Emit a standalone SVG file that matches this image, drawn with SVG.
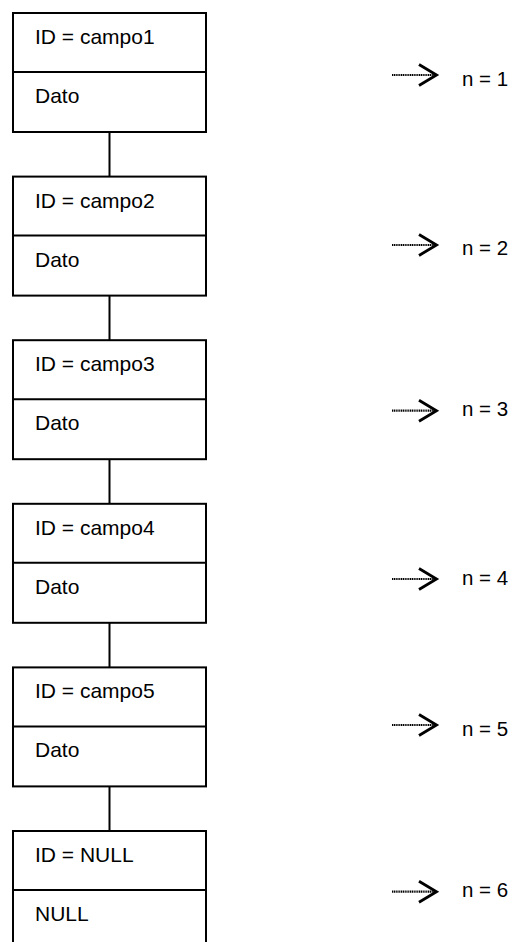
<svg xmlns="http://www.w3.org/2000/svg" width="512" height="942" viewBox="0 0 512 942">
<style>
.box{fill:#fff;stroke:#000;stroke-width:2}
.div{stroke:#000;stroke-width:2}
.t{font-family:"Liberation Sans",Arial,sans-serif;font-size:21px;fill:#000}
.n{font-family:"Liberation Sans",Arial,sans-serif;font-size:20.5px;fill:#000}
.con{stroke:#000;stroke-width:2;fill:none}
.ar{stroke:#000;stroke-width:2.2;stroke-dasharray:1.2 0.6;fill:none}
.hd{stroke:#000;stroke-width:2.8;fill:none}
</style>
<rect width="512" height="942" fill="#fff"/>
<g id="connectors">
<line class="con" x1="109.5" y1="132" x2="109.5" y2="176.6"/>
<line class="con" x1="109.5" y1="295.6" x2="109.5" y2="340.2"/>
<line class="con" x1="109.5" y1="459.2" x2="109.5" y2="503.8"/>
<line class="con" x1="109.5" y1="622.8" x2="109.5" y2="667.4"/>
<line class="con" x1="109.5" y1="786.4" x2="109.5" y2="831"/>
</g>
<g id="node1"><rect class="box" x="13" y="13" width="193" height="119"/><line class="div" x1="13" y1="72" x2="206" y2="72"/><text class="t" x="35" y="44">ID = campo1</text><text class="t" x="35" y="103">Dato</text></g>
<g id="node2"><rect class="box" x="13" y="176.6" width="193" height="119"/><line class="div" x1="13" y1="235.6" x2="206" y2="235.6"/><text class="t" x="35" y="207.6">ID = campo2</text><text class="t" x="35" y="266.6">Dato</text></g>
<g id="node3"><rect class="box" x="13" y="340.2" width="193" height="119"/><line class="div" x1="13" y1="399.2" x2="206" y2="399.2"/><text class="t" x="35" y="371.2">ID = campo3</text><text class="t" x="35" y="430.2">Dato</text></g>
<g id="node4"><rect class="box" x="13" y="503.8" width="193" height="119"/><line class="div" x1="13" y1="562.8" x2="206" y2="562.8"/><text class="t" x="35" y="534.8">ID = campo4</text><text class="t" x="35" y="593.8">Dato</text></g>
<g id="node5"><rect class="box" x="13" y="667.4" width="193" height="119"/><line class="div" x1="13" y1="726.4" x2="206" y2="726.4"/><text class="t" x="35" y="698.4">ID = campo5</text><text class="t" x="35" y="757.4">Dato</text></g>
<g id="node6"><rect class="box" x="13" y="831" width="193" height="119"/><line class="div" x1="13" y1="890" x2="206" y2="890"/><text class="t" x="35" y="862">ID = NULL</text><text class="t" x="35" y="921">NULL</text></g>
<g id="pointer1"><line class="ar" x1="392" y1="75" x2="435" y2="75"/><polyline class="hd" points="419,64.5 436.5,75 419,85.5"/><text class="n" x="462" y="86">n = 1</text></g>
<g id="pointer2"><line class="ar" x1="392" y1="245" x2="435" y2="245"/><polyline class="hd" points="419,234.5 436.5,245 419,255.5"/><text class="n" x="462" y="255">n = 2</text></g>
<g id="pointer3"><line class="ar" x1="392" y1="410.7" x2="435" y2="410.7"/><polyline class="hd" points="419,400.2 436.5,410.7 419,421.2"/><text class="n" x="462" y="416">n = 3</text></g>
<g id="pointer4"><line class="ar" x1="392" y1="579" x2="435" y2="579"/><polyline class="hd" points="419,568.5 436.5,579 419,589.5"/><text class="n" x="462" y="584.5">n = 4</text></g>
<g id="pointer5"><line class="ar" x1="392" y1="725" x2="435" y2="725"/><polyline class="hd" points="419,714.5 436.5,725 419,735.5"/><text class="n" x="462" y="735.5">n = 5</text></g>
<g id="pointer6"><line class="ar" x1="392" y1="891.7" x2="435" y2="891.7"/><polyline class="hd" points="419,881.2 436.5,891.7 419,902.2"/><text class="n" x="462" y="897">n = 6</text></g>
</svg>
